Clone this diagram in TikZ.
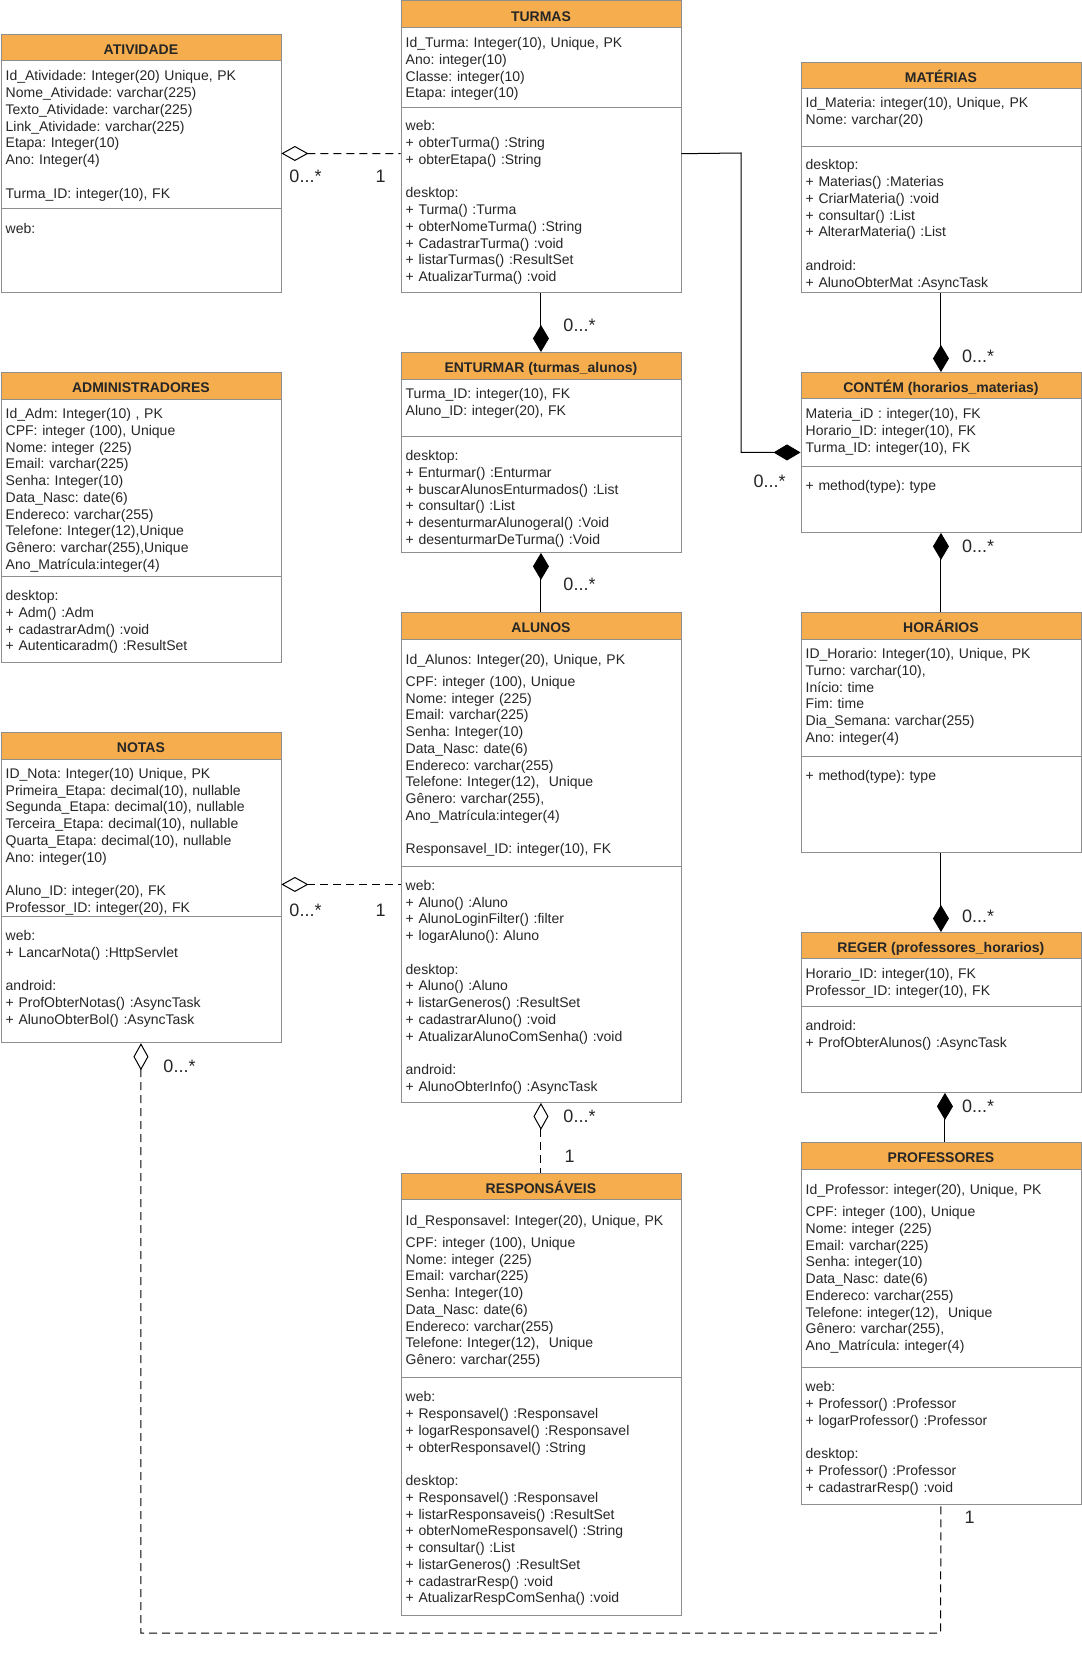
\documentclass[tikz,border=0pt]{standalone}
\usepackage{fontspec}
\setmainfont{Liberation Sans}
\usepackage{tikz}
\usetikzlibrary{arrows.meta}
\definecolor{hdorange}{HTML}{F5AD4E}
\definecolor{boxgray}{HTML}{8E8E8E}
\definecolor{txtgray}{HTML}{262626}
\frenchspacing

\begin{document}
\begin{tikzpicture}[x=1pt,y=-1pt]
\tikzstyle{cls}=[draw=boxgray,fill=white,anchor=north west,minimum width=280pt,inner sep=0pt,line width=0.9pt]
\tikzstyle{head}=[draw=boxgray,fill=hdorange,anchor=north west,minimum width=280pt,inner sep=0pt,line width=0.9pt,text=txtgray,text height=14pt,text depth=0pt,font=\bfseries\fontsize{14}{16}\selectfont]
\tikzstyle{attr}=[anchor=base west,align=left,text width=272pt,inner sep=0pt,text=txtgray,font=\fontsize{14}{16.75}\selectfont]
\tikzstyle{sep}=[draw=boxgray,line width=0.9pt]
\tikzstyle{mult}=[inner sep=0pt,text=txtgray,font=\fontsize{18}{20}\selectfont]
\tikzstyle{comp}=[draw=black,line width=1pt,{Diamond[length=27pt,width=16pt]}-]
\tikzstyle{agg}=[draw=black,line width=1pt,dash pattern=on 8pt off 5pt,{Diamond[open,length=27pt,width=15pt]}-]
\useasboundingbox (0,0) rectangle (1081,1661);

% ATIVIDADE
\node[cls,minimum height=258pt] (atividade) at (0.5,34) {};
\node[head,minimum height=26pt] (atividadeT) at (0.5,34) {ATIVIDADE};
\draw[sep] (0.5,208) -- (280.5,208);
\node[attr] (atividadeA) at (5.5,81) {Id\_Atividade: Integer(20) Unique, PK\\ Nome\_Atividade: varchar(225)\\ Texto\_Atividade: varchar(225)\\ Link\_Atividade: varchar(225)\\ Etapa: Integer(10)\\ Ano: Integer(4)\\[16.75pt] Turma\_ID: integer(10), FK};
\node[attr] (atividadeM) at (5.5,234) {web:};

% TURMAS
\node[cls,minimum height=291.5pt] (turmas) at (400.5,0.5) {};
\node[head,minimum height=26.5pt] (turmasT) at (400.5,0.5) {TURMAS};
\draw[sep] (400.5,107) -- (680.5,107);
\node[attr] (turmasA) at (405.5,47.6) {Id\_Turma: Integer(10), Unique, PK\\ Ano: integer(10)\\ Classe: integer(10)\\ Etapa: integer(10)};
\node[attr] (turmasM) at (405.5,131) {web:\\ + obterTurma() :String\\ + obterEtapa() :String\\[16.75pt] desktop:\\ + Turma() :Turma\\ + obterNomeTurma() :String\\ + CadastrarTurma() :void\\ + listarTurmas() :ResultSet\\ + AtualizarTurma() :void};

% MATERIAS
\node[cls,minimum height=230pt] (materias) at (800.5,62) {};
\node[head,minimum height=26pt] (materiasT) at (800.5,62) {MATÉRIAS};
\draw[sep] (800.5,146) -- (1080.5,146);
\node[attr] (materiasA) at (805.5,107.6) {Id\_Materia: integer(10), Unique, PK\\ Nome: varchar(20)};
\node[attr] (materiasM) at (805.5,170) {desktop:\\ + Materias() :Materias\\ + CriarMateria() :void\\ + consultar() :List\\ + AlterarMateria() :List\\[16.75pt] android:\\ + AlunoObterMat :AsyncTask};

% ADMINISTRADORES
\node[cls,minimum height=290pt] (adm) at (0.5,372) {};
\node[head,minimum height=27pt] (admT) at (0.5,372) {ADMINISTRADORES};
\draw[sep] (0.5,576) -- (280.5,576);
\node[attr] (admA) at (5.5,418.6) {Id\_Adm: Integer(10) , PK\\ CPF: integer (100), Unique\\ Nome: integer (225)\\ Email: varchar(225)\\ Senha: Integer(10)\\ Data\_Nasc: date(6)\\ Endereco: varchar(255)\\ Telefone: Integer(12),Unique\\ Gênero: varchar(255),Unique\\ Ano\_Matrícula:integer(4)};
\node[attr] (admM) at (5.5,600.6) {desktop:\\ + Adm() :Adm\\ + cadastrarAdm() :void\\ + Autenticaradm() :ResultSet};

% ENTURMAR
\node[cls,minimum height=200pt] (enturmar) at (400.5,352) {};
\node[head,minimum height=27pt] (enturmarT) at (400.5,352) {ENTURMAR (turmas\_alunos)};
\draw[sep] (400.5,436) -- (680.5,436);
\node[attr] (enturmarA) at (405.5,398.6) {Turma\_ID: integer(10), FK\\ Aluno\_ID: integer(20), FK};
\node[attr] (enturmarM) at (405.5,460.6) {desktop:\\ + Enturmar() :Enturmar\\ + buscarAlunosEnturmados() :List\\ + consultar() :List\\ + desenturmarAlunogeral() :Void\\ + desenturmarDeTurma() :Void};

% CONTEM
\node[cls,minimum height=160pt] (contem) at (800.5,372) {};
\node[head,minimum height=26pt] (contemT) at (800.5,372) {CONTÉM (horarios\_materias)};
\draw[sep] (800.5,466) -- (1080.5,466);
\node[attr] (contemA) at (805.5,418.6) {Materia\_iD : integer(10), FK\\ Horario\_ID: integer(10), FK\\ Turma\_ID: integer(10), FK};
\node[attr] (contemM) at (805.5,490.3) {+ method(type): type};

% HORARIOS
\node[cls,minimum height=240pt] (horarios) at (800.5,612) {};
\node[head,minimum height=27pt] (horariosT) at (800.5,612) {HORÁRIOS};
\draw[sep] (800.5,756) -- (1080.5,756);
\node[attr] (horariosA) at (805.5,658.6) {ID\_Horario: Integer(10), Unique, PK\\ Turno: varchar(10),\\ Início: time\\ Fim: time\\ Dia\_Semana: varchar(255)\\ Ano: integer(4)};
\node[attr] (horariosM) at (805.5,780.3) {+ method(type): type};

% REGER
\node[cls,minimum height=160pt] (reger) at (800.5,932) {};
\node[head,minimum height=26pt] (regerT) at (800.5,932) {REGER (professores\_horarios)};
\draw[sep] (800.5,1006) -- (1080.5,1006);
\node[attr] (regerA) at (805.5,978.6) {Horario\_ID: integer(10), FK\\ Professor\_ID: integer(10), FK};
\node[attr] (regerM) at (805.5,1030.3) {android:\\ + ProfObterAlunos() :AsyncTask};

% ALUNOS
\node[cls,minimum height=490pt] (alunos) at (400.5,612) {};
\node[head,minimum height=27pt] (alunosT) at (400.5,612) {ALUNOS};
\draw[sep] (400.5,866) -- (680.5,866);
\node[attr] (alunosA) at (405.5,664.3) {Id\_Alunos: Integer(20), Unique, PK\\[5.3pt] CPF: integer (100), Unique\\ Nome: integer (225)\\ Email: varchar(225)\\ Senha: Integer(10)\\ Data\_Nasc: date(6)\\ Endereco: varchar(255)\\ Telefone: Integer(12),\ \ Unique\\ Gênero: varchar(255),\\ Ano\_Matrícula:integer(4)\\[16.75pt] Responsavel\_ID: integer(10), FK};
\node[attr] (alunosM) at (405.5,890.3) {web:\\ + Aluno() :Aluno\\ + AlunoLoginFilter() :filter\\ + logarAluno(): Aluno\\[16.75pt] desktop:\\ + Aluno() :Aluno\\ + listarGeneros() :ResultSet\\ + cadastrarAluno() :void\\ + AtualizarAlunoComSenha() :void\\[16.75pt] android:\\ + AlunoObterInfo() :AsyncTask};

% NOTAS
\node[cls,minimum height=310pt] (notas) at (0.5,732.3) {};
\node[head,minimum height=26.4pt] (notasT) at (0.5,732.3) {NOTAS};
\draw[sep] (0.5,916) -- (280.5,916);
\node[attr] (notasA) at (5.5,778.3) {ID\_Nota: Integer(10) Unique, PK\\ Primeira\_Etapa: decimal(10), nullable\\ Segunda\_Etapa: decimal(10), nullable\\ Terceira\_Etapa: decimal(10), nullable\\ Quarta\_Etapa: decimal(10), nullable\\ Ano: integer(10)\\[16.75pt] Aluno\_ID: integer(20), FK\\ Professor\_ID: integer(20), FK};
\node[attr] (notasM) at (5.5,940.3) {web:\\ + LancarNota() :HttpServlet\\[16.75pt] android:\\ + ProfObterNotas() :AsyncTask\\ + AlunoObterBol() :AsyncTask};

% RESPONSAVEIS
\node[cls,minimum height=441.6pt] (responsaveis) at (400.5,1173) {};
\node[head,minimum height=26.2pt] (responsaveisT) at (400.5,1173) {RESPONSÁVEIS};
\draw[sep] (400.5,1377.4) -- (680.5,1377.4);
\node[attr] (responsaveisA) at (405.5,1225) {Id\_Responsavel: Integer(20), Unique, PK\\[5.5pt] CPF: integer (100), Unique\\ Nome: integer (225)\\ Email: varchar(225)\\ Senha: Integer(10)\\ Data\_Nasc: date(6)\\ Endereco: varchar(255)\\ Telefone: Integer(12),\ \ Unique\\ Gênero: varchar(255)};
\node[attr] (responsaveisM) at (405.5,1401.8) {web:\\ + Responsavel() :Responsavel\\ + logarResponsavel() :Responsavel\\ + obterResponsavel() :String\\[16.75pt] desktop:\\ + Responsavel() :Responsavel\\ + listarResponsaveis() :ResultSet\\ + obterNomeResponsavel() :String\\ + consultar() :List\\ + listarGeneros() :ResultSet\\ + cadastrarResp() :void\\ + AtualizarRespComSenha() :void};

% PROFESSORES
\node[cls,minimum height=361.9pt] (professores) at (800.5,1142.4) {};
\node[head,minimum height=26.2pt] (professoresT) at (800.5,1142.4) {PROFESSORES};
\draw[sep] (800.5,1367.7) -- (1080.5,1367.7);
\node[attr] (professoresA) at (805.5,1194.4) {Id\_Professor: integer(20), Unique, PK\\[5.5pt] CPF: integer (100), Unique\\ Nome: integer (225)\\ Email: varchar(225)\\ Senha: integer(10)\\ Data\_Nasc: date(6)\\ Endereco: varchar(255)\\ Telefone: integer(12),\ \ Unique\\ Gênero: varchar(255),\\ Ano\_Matrícula: integer(4)};
\node[attr] (professoresM) at (805.5,1391.7) {web:\\ + Professor() :Professor\\ + logarProfessor() :Professor\\[16.75pt] desktop:\\ + Professor() :Professor\\ + cadastrarResp() :void};

% ligacoes
\coordinate (tbend) at (741,153);
\coordinate (pbend) at (940.5,1633);
\draw[agg] ([yshift=10pt]atividade.east) -- ([yshift=-7pt]turmas.west);
\draw[comp] (enturmar.north) -- (turmas.south);
\draw[comp] (enturmar.south) -- (alunos.north);
\draw[comp] (contem.west) -| (tbend) -- ([yshift=-7pt]turmas.east);
\draw[comp] (contem.north) -- (materias.south);
\draw[comp] (contem.south) -- (horarios.north);
\draw[comp] (reger.north) -- (horarios.south);
\draw[comp] ([xshift=4pt]reger.south) -- ([xshift=4pt]professores.north);
\draw[agg] ([yshift=3.3pt]notas.east) -- ([yshift=-27pt]alunos.west);
\draw[agg] (alunos.south) -- (responsaveis.north);
\draw[agg] (notas.south) |- (pbend) -- (professores.south);

% multiplicidades
\node[mult] (m1) at (305.5,176) {0...*};
\node[mult] (m2) at (380.5,176.5) {1};
\node[mult] (m3) at (579.5,325) {0...*};
\node[mult] (m4) at (579.5,584) {0...*};
\node[mult] (m5) at (769.5,481) {0...*};
\node[mult] (m6) at (978,356) {0...*};
\node[mult] (m7) at (978,546.7) {0...*};
\node[mult] (m8) at (978,916) {0...*};
\node[mult] (m9) at (978,1106) {0...*};
\node[mult] (m10) at (305.5,910.7) {0...*};
\node[mult] (m11) at (380.5,910.7) {1};
\node[mult] (m12) at (179.5,1066.7) {0...*};
\node[mult] (m13) at (579.5,1116) {0...*};
\node[mult] (m14) at (569.5,1156) {1};
\node[mult] (m15) at (969.5,1517) {1};
\end{tikzpicture}
\end{document}
